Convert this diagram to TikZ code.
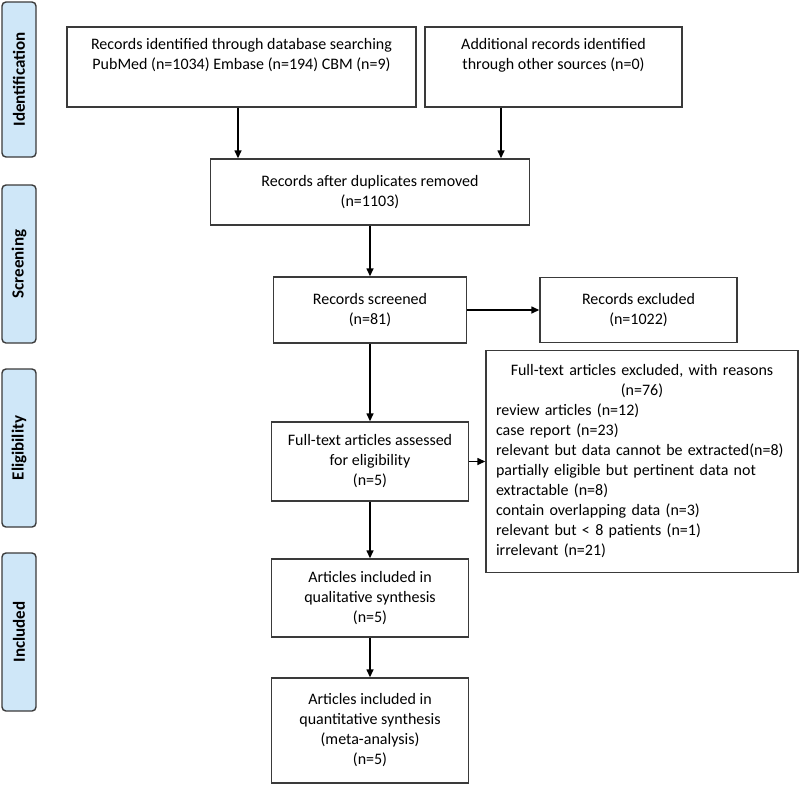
\documentclass[tikz,border=0pt]{standalone}
\usepackage{fontspec}
\setmainfont{Carlito}
\usetikzlibrary{arrows.meta}

\definecolor{phasefill}{HTML}{CFE7F8}
\definecolor{edgegray}{HTML}{3A3A3A}

\tikzset{
  box/.style={draw=edgegray, line width=1.4pt, inner sep=0pt, align=center,
    font=\fontsize{16}{20}\selectfont},
  phase/.style={draw=edgegray, fill=phasefill, line width=1.4pt, rounded corners=4pt,
    rotate=90, minimum height=34pt, inner sep=0pt, font=\bfseries\fontsize{17}{20}\selectfont},
  arr/.style={-{Triangle[length=8pt,width=7pt]}, line width=1.4pt}
}

\begin{document}
\begin{tikzpicture}[x=1pt, y=-1pt]
  \useasboundingbox (0,0) rectangle (800,785);

  % phase labels down the left side
  \foreach \name/\y/\h [count=\i] in {Identification/79.5/155, Screening/264/158,
                                      Eligibility/448/158, Included/632/158} {
    \node[phase, minimum width=\h pt] (phase\i) at (19,\y) {\name};
  }

  \node[box, minimum width=349pt, minimum height=80pt] (search) at (241.5,67)
    {Records identified through database searching\\
     PubMed (n=1034) Embase (n=194) CBM (n=9)\\ \strut};
  \node[box, minimum width=257pt, minimum height=80pt] (other) at (553.5,67)
    {Additional records identified\\ through other sources (n=0)\\ \strut};
  \node[box, minimum width=319pt, minimum height=66pt] (dedup) at (370,192)
    {Records after duplicates removed\\ (n=1103)};
  \node[box, minimum width=193pt, minimum height=66pt] (screened) at (370,310)
    {Records screened\\ (n=81)};
  \node[box, minimum width=197pt, minimum height=65pt] (excluded) at (638.5,310)
    {Records excluded\\ (n=1022)};
  \node[box, minimum width=197pt, minimum height=79pt] (assessed) at (370,461.5)
    {Full-text articles assessed\\ for eligibility\\ (n=5)};
  \node[box, minimum width=312pt, minimum height=222pt, text width=292pt, align=left] (reasons) at (642,461.5)
    {{\centering Full-text articles excluded, with reasons\\ (n=76)\par}
     review articles (n=12)\\
     case report (n=23)\\
     relevant but data cannot be extracted(n=8)\\
     partially eligible but pertinent data not\\
     extractable (n=8)\\
     contain overlapping data (n=3)\\
     relevant but < 8 patients (n=1)\\
     irrelevant (n=21)};
  \node[box, minimum width=197pt, minimum height=78pt] (qual) at (370,598)
    {Articles included in\\ qualitative synthesis\\ (n=5)};
  \node[box, minimum width=197pt, minimum height=105pt] (quant) at (370,730.5)
    {Articles included in\\ quantitative synthesis\\ (meta-analysis)\\ (n=5)};

  \draw[arr] ([xshift=-3.5pt]search.south) -- ([xshift=-3.5pt]search.south |- dedup.north);
  \draw[arr] ([xshift=-52.5pt]other.south) -- ([xshift=-52.5pt]other.south |- dedup.north);
  \draw[arr] (dedup) -- (screened);
  \draw[arr] (screened) -- (excluded);
  \draw[arr] (screened) -- (assessed);
  \draw[arr] (assessed) -- (reasons);
  \draw[arr] (assessed) -- (qual);
  \draw[arr] (qual) -- (quant);
\end{tikzpicture}
\end{document}
